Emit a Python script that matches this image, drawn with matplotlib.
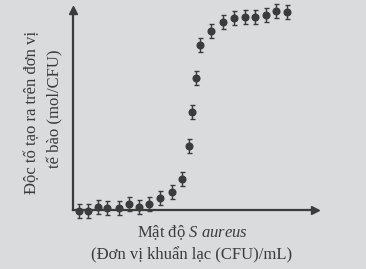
import matplotlib.pyplot as plt

# S. aureus density (arbitrary units, no ticks) vs toxin per cell
density = [6, 15, 25, 34, 46, 56, 66, 76, 87, 99, 109, 116, 119, 123, 127,
           138, 150, 161, 172, 182, 193, 203, 214]
toxin = [-1, -1, 3, 2, 2, 6, 3, 6, 12, 18, 31, 64, 98, 132, 165,
         179, 188, 192, 193, 193, 195, 199, 198]
err = [7] * len(density)

bg = '#d9dbdc'
ink = '#3b3b3b'

plt.rcParams['font.family'] = ['Liberation Serif', 'DejaVu Serif']
plt.rcParams['mathtext.fontset'] = 'custom'
plt.rcParams['mathtext.rm'] = 'Liberation Serif'
plt.rcParams['mathtext.it'] = 'Liberation Serif:italic'

fig = plt.figure(figsize=(3.66, 2.69), dpi=100, facecolor=bg)
ax = fig.add_axes([73 / 366, 59 / 269, 242 / 366, 200 / 269])
ax.set_facecolor(bg)

ax.errorbar(density, toxin, yerr=err, fmt='o', color=ink, markersize=4.8,
            elinewidth=1.0, capsize=1.8, capthick=1.0, clip_on=False, zorder=3)

ax.set_xlim(0, 242)
ax.set_ylim(0, 200)
ax.set_xticks([])
ax.set_yticks([])
for side in ['top', 'right']:
    ax.spines[side].set_visible(False)
for side in ['left', 'bottom']:
    ax.spines[side].set_color(ink)
    ax.spines[side].set_linewidth(1.6)

# arrow heads at the axis ends
ax.plot(1, 0, '>', color=ink, markersize=6, transform=ax.transAxes, clip_on=False)
ax.plot(0, 1, '^', color=ink, markersize=6, transform=ax.transAxes, clip_on=False)

fig.text(192 / 366, 1 - 233 / 269, 'Mật độ $S\\ aureus$', ha='center', va='center',
         fontsize=12, color=ink)
fig.text(192 / 366, 1 - 255 / 269, '(Đơn vị khuẩn lạc (CFU)/mL)', ha='center', va='center',
         fontsize=12, color=ink)
fig.text(32 / 366, 1 - 112 / 269, 'Độc tố tạo ra trên đơn vị', ha='center', va='center',
         rotation=90, fontsize=12, color=ink)
fig.text(55 / 366, 1 - 109 / 269, 'tế bào (mol/CFU)', ha='center', va='center',
         rotation=90, fontsize=12, color=ink)

fig.savefig('out.png', dpi=100, facecolor=bg)
